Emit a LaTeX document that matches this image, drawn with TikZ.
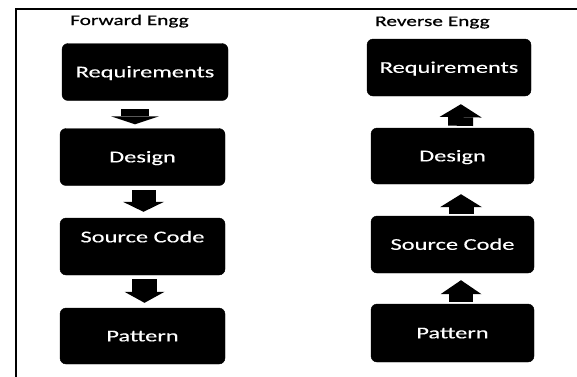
\documentclass[tikz,border=0pt]{standalone}
\usepackage{fontspec}
\setmainfont{Carlito}
\newfontfamily\boxfont[FakeStretch=1.48,FakeBold=0.3]{Carlito}
\newfontfamily\headfont[FakeStretch=1.45,FakeBold=0.7]{Carlito}
\usetikzlibrary{arrows.meta,calc}
\tikzset{
  stagebox/.style={rectangle, rounded corners=6pt, fill=black, draw=black,
    text=white, font=\boxfont\fontsize{16.5}{18}\selectfont,
    text height=10.7pt, text depth=0pt, inner sep=0pt},
  heading/.style={anchor=base west, inner sep=0pt,
    font=\headfont\fontsize{14.7}{16}\selectfont, text=black},
  blockarrow/.style={draw=black, line width=#1, line cap=butt},
}
\begin{document}
\begin{tikzpicture}[x=1pt,y=-1pt]
\useasboundingbox (0,0) rectangle (577,376);
% page frame
\draw[line width=2pt] (15.5,377) -- (15.5,8.5) -- (578,8.5);

% headings
\node[heading] (fwd) at (70,25) {Forward Engg};
\node[heading] (rev) at (375,26) {Reverse Engg};

% forward engineering column
\node[stagebox, minimum width=166pt, minimum height=57pt] (lreq) at (145,72) {Requirements};
\node[stagebox, minimum width=165pt, minimum height=57pt] (ldes) at (142.5,157) {Design};
\node[stagebox, minimum width=165pt, minimum height=57pt] (lsrc) at (142.5,246.5) {\raisebox{9.5pt}{Source Code}};
\node[stagebox, minimum width=165pt, minimum height=56pt] (lpat) at (142.5,336) {Pattern};

% reverse engineering column
\node[stagebox, minimum width=164pt, minimum height=57pt] (rreq) at (449,67.5) {Requirements};
\node[stagebox, minimum width=163pt, minimum height=56pt] (rdes) at (452.5,156) {Design};
\node[stagebox, minimum width=163pt, minimum height=57pt] (rsrc) at (452.5,244.5) {Source Code};
\node[stagebox, minimum width=163pt, minimum height=58pt] (rpat) at (452.5,333) {Pattern};

% downward block arrows
\draw[blockarrow=28pt, -{Triangle[length=8pt,width=48pt,line width=0pt]},
  shorten <=8.5pt, shorten >=4pt]
  ([xshift=-10pt]lreq.south) -- ([xshift=-7.5pt]ldes.north);
\draw[blockarrow=24pt, -{Triangle[length=10pt,width=41pt,line width=0pt]},
  shorten <=4.5pt, shorten >=6pt]
  ([xshift=1pt]ldes.south) -- ([xshift=1pt]lsrc.north);
\draw[blockarrow=25pt, -{Triangle[length=11pt,width=40pt,line width=0pt]},
  shorten <=4pt, shorten >=5pt]
  ([xshift=2pt]lsrc.south) -- ([xshift=2pt]lpat.north);

% upward block arrows
\draw[blockarrow=25pt, -{Triangle[length=13pt,width=42pt,line width=0pt]},
  shorten <=2pt, shorten >=8pt]
  ([xshift=8pt]rdes.north) -- ([xshift=12pt]rreq.south);
\draw[blockarrow=25pt, -{Triangle[length=13pt,width=42pt,line width=0pt]},
  shorten <=2pt, shorten >=10pt]
  ([xshift=8.5pt]rsrc.north) -- ([xshift=8.5pt]rdes.south);
\draw[blockarrow=24pt, -{Triangle[length=14pt,width=41pt,line width=0pt]},
  shorten <=2pt, shorten >=7pt]
  ([xshift=8.5pt]rpat.north) -- ([xshift=8.5pt]rsrc.south);
\end{tikzpicture}
\end{document}
